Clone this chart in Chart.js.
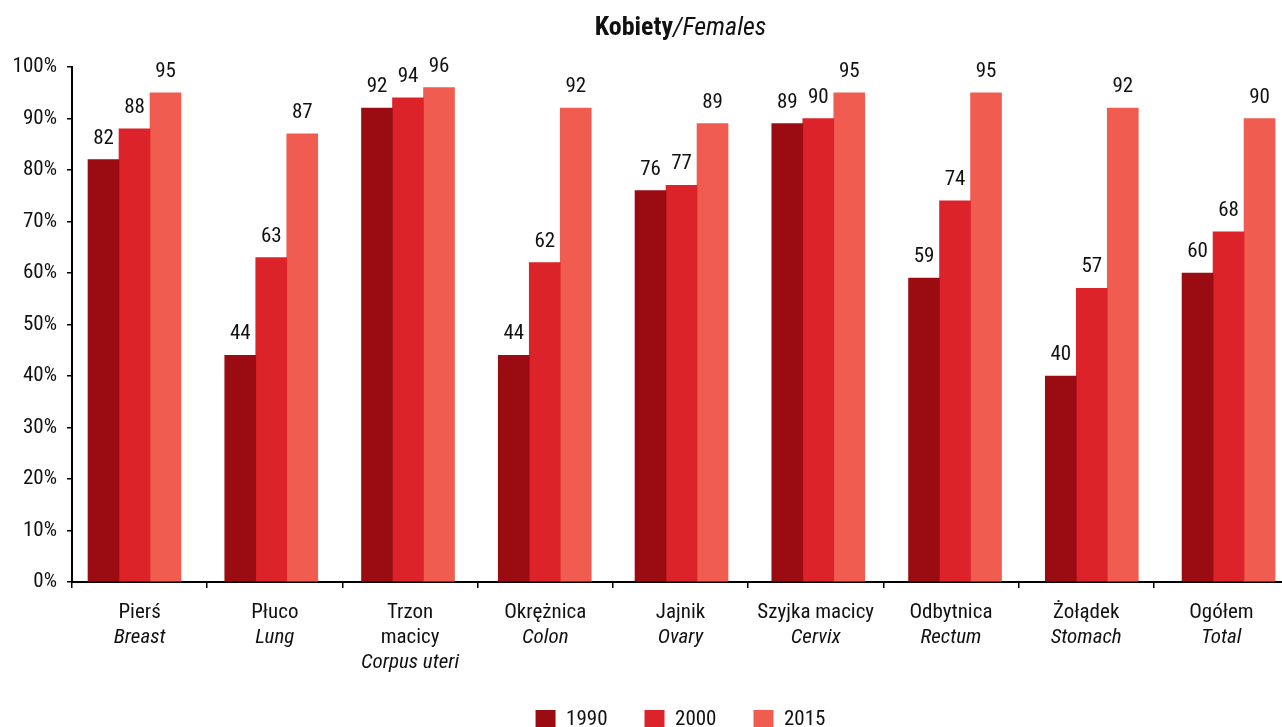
<!DOCTYPE html>
<html lang="pl">
<head>
<meta charset="utf-8">
<title>Kobiety/Females</title>
<script src="https://cdn.jsdelivr.net/npm/chart.js"></script>
<style>
  html, body { margin: 0; padding: 0; background: #fff; overflow: hidden; }
  #wrap { width: 1289px; height: 727px; }
  canvas { display: block; }
</style>
</head>
<body>
<div id="wrap"><canvas id="chart" width="1289" height="727"></canvas></div>
<script>
// Categories: Polish name (may span two lines) and English name in italics
const categoriesPl = [['Pierś'], ['Płuco'], ['Trzon', 'macicy'], ['Okrężnica'], ['Jajnik'],
                      ['Szyjka macicy'], ['Odbytnica'], ['Żołądek'], ['Ogółem']];
const categoriesEn = ['Breast', 'Lung', 'Corpus uteri', 'Colon', 'Ovary',
                      'Cervix', 'Rectum', 'Stomach', 'Total'];

// Survival (%) by year of diagnosis
const years = ['1990', '2000', '2015'];
const values1990 = [82, 44, 92, 44, 76, 89, 59, 40, 60];
const values2000 = [88, 63, 94, 62, 77, 90, 74, 57, 68];
const values2015 = [95, 87, 96, 92, 89, 95, 95, 92, 90];

const yTicks = [0, 10, 20, 30, 40, 50, 60, 70, 80, 90, 100];

const FONT = '"Roboto Condensed", "Liberation Sans Narrow", "DejaVu Sans Condensed", Roboto, sans-serif';
const INK = '#111111';
const colors = ['#9b0c12', '#dc232a', '#f15c51'];
const FS = 21;

Chart.defaults.font.family = FONT;
Chart.defaults.font.size = FS;
Chart.defaults.color = INK;

const seriesValues = [values1990, values2000, values2015];
const datasets = years.map((yr, k) => ({
  label: yr,
  xAxisID: 'xb',
  yAxisID: 'y',
  data: seriesValues[k].map((v, i) => ({ x: i, y: v })),
  backgroundColor: colors[k],
  borderWidth: 0,
  barThickness: 31
}));

// Polish lines plus one empty line kept free for the English name
const labelsPl = categoriesPl.map(lines => lines.concat(['']));
// English name goes on the line right under the last Polish line
const labelsEn = categoriesEn.map((t, i) =>
  Array(categoriesPl[i].length).fill('').concat([t]));

// Value printed above every bar
const valueLabels = {
  id: 'valueLabels',
  afterDatasetsDraw(chart) {
    const ctx = chart.ctx;
    ctx.save();
    ctx.font = FS + 'px ' + FONT;
    ctx.fillStyle = INK;
    ctx.textAlign = 'center';
    ctx.textBaseline = 'alphabetic';
    chart.data.datasets.forEach((ds, di) => {
      chart.getDatasetMeta(di).data.forEach((bar, i) => {
        ctx.fillText(String(ds.data[i].y), bar.x, bar.y - 16);
      });
    });
    ctx.restore();
  }
};

// Bilingual title: bold Polish part, italic English part
const bilingualTitle = {
  id: 'bilingualTitle',
  afterDraw(chart) {
    const ctx = chart.ctx;
    const a = chart.chartArea;
    const partPl = 'Kobiety';
    const partEn = '/Females';
    ctx.save();
    ctx.fillStyle = INK;
    ctx.textBaseline = 'alphabetic';
    const fPl = 'bold 26px ' + FONT;
    const fEn = 'italic 26px ' + FONT;
    ctx.font = fPl; const w1 = ctx.measureText(partPl).width;
    ctx.font = fEn; const w2 = ctx.measureText(partEn).width;
    const x = (a.left + a.right) / 2 - (w1 + w2) / 2;
    const y = 35;
    ctx.textAlign = 'left';
    ctx.font = fPl; ctx.fillText(partPl, x, y);
    ctx.font = fEn; ctx.fillText(partEn, x + w1, y);
    ctx.restore();
  }
};

new Chart(document.getElementById('chart'), {
  type: 'bar',
  data: { datasets },
  plugins: [valueLabels, bilingualTitle],
  options: {
    responsive: false,
    animation: false,
    layout: { padding: { top: 67, left: 0, right: 0, bottom: 0 } },
    plugins: {
      tooltip: { enabled: false },
      title: { display: false },
      legend: {
        position: 'bottom',
        fullSize: false,
        maxHeight: 55,
        labels: {
          boxWidth: 20,
          boxHeight: 19,
          padding: 37,
          color: INK,
          font: { size: FS }
        }
      }
    },
    scales: {
      xb: {
        type: 'linear',
        display: false,
        min: -0.457,
        max: 8.442,
        offset: false
      },
      x: {
        type: 'category',
        position: 'bottom',
        labels: labelsPl,
        offset: true,
        afterFit(scale) { scale.height = 90; },
        grid: {
          offset: true,
          drawOnChartArea: false,
          drawTicks: true,
          tickLength: 6,
          color: '#000',
          lineWidth: 1.5
        },
        border: { display: true, color: '#000', width: 2 },
        ticks: {
          autoSkip: false,
          maxRotation: 0,
          minRotation: 0,
          padding: 12,
          color: INK,
          font: { size: FS, lineHeight: 1.2 }
        }
      },
      x2: {
        type: 'category',
        axis: 'x',
        position: { y: 0 },
        labels: labelsEn,
        offset: true,
        grid: { display: false, drawTicks: false, drawOnChartArea: false },
        border: { display: false },
        ticks: {
          autoSkip: false,
          maxRotation: 0,
          minRotation: 0,
          padding: 18,
          color: INK,
          font: { size: FS, style: 'italic', lineHeight: 1.2 }
        }
      },
      y: {
        type: 'linear',
        min: 0,
        max: 100,
        afterFit(scale) { scale.width = 72; },
        afterBuildTicks(scale) { scale.ticks = yTicks.map(v => ({ value: v })); },
        grid: {
          drawOnChartArea: false,
          drawTicks: true,
          tickLength: 5,
          color: '#000',
          lineWidth: 1.5
        },
        border: { display: true, color: '#000', width: 2 },
        ticks: {
          padding: 10,
          color: INK,
          font: { size: FS },
          callback: v => v + '%'
        }
      }
    }
  }
});
</script>
</body>
</html>
